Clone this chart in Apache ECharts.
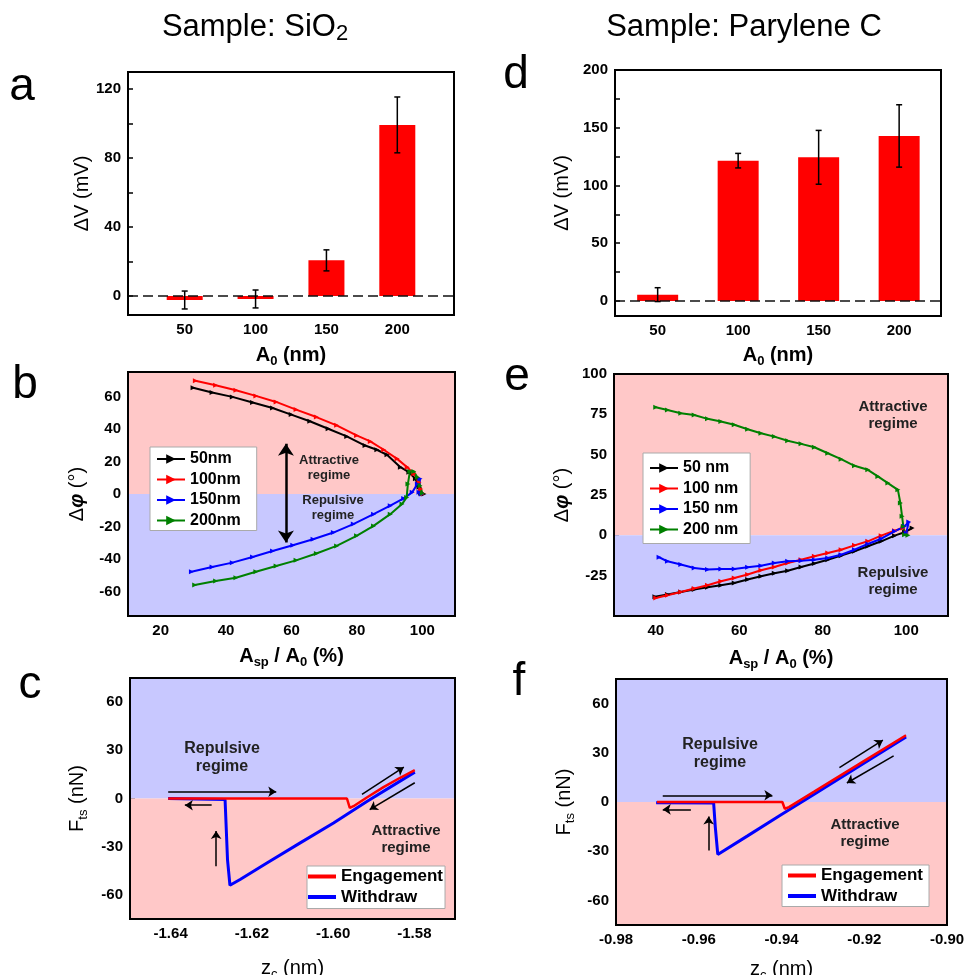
<!DOCTYPE html>
<html>
<head>
<meta charset="utf-8">
<title>Sample: SiO2 / Parylene C</title>
<script src="https://cdn.jsdelivr.net/npm/echarts@6/dist/echarts.min.js"></script>
<style>
  html, body { margin: 0; padding: 0; background: #fff; }
  #main { width: 967px; height: 975px; }
</style>
</head>
<body>
<div id="main"></div>
<script>
// ---------- data ----------
var amplitudeLabels = ['50', '100', '150', '200'];   // A0 (nm)
var amplitudePos = [1, 2, 3, 4];

// a: SiO2, ΔV (mV)
var sio2Dv = [-2.3, -1.7, 20.7, 99.3];
var sio2DvErr = [5.2, 5.2, 6.1, 16.2];
// d: Parylene C, ΔV (mV)
var paryDv = [5.5, 121.5, 124.4, 142.9];
var paryDvErr = [6.0, 6.3, 23.3, 27.0];

// b: SiO2, Δφ (°) vs Asp/A0 (%)
var sio2Phase50 = [[29.9,65.3],[35.7,62.4],[41.9,59.7],[48.1,56.2],[54.2,52.9],[59.9,48.8],[65.6,44.7],[71.2,40.1],[76.9,35.4],[82.5,29.8],[86.1,27.2],[89.2,24.1],[93.3,16.5],[95.9,13.4],[97.9,9.3],[99.0,4.1],[99.5,0.4],[100.5,0]];
var sio2Phase100 = [[30.6,69.6],[36.8,66.9],[43.0,63.8],[49.1,60.3],[55.3,56.6],[61.4,51.9],[67.6,47.3],[73.8,42.2],[79.9,36.0],[84.1,32.3],[88.2,27.2],[92.3,21.6],[95.4,16.5],[97.4,12.4],[99.0,7.2],[99.5,3.1],[100.0,0]];
var sio2Phase150 = [[29.4,-47.8],[35.7,-44.9],[41.9,-42.2],[48.1,-38.7],[54.2,-35.0],[60.4,-31.5],[66.6,-27.8],[72.8,-23.7],[78.9,-18.5],[85.1,-12.4],[90.2,-7.2],[94.3,-2.7],[96.9,1.0],[98.5,6.2],[99.3,9.3],[99.0,1.0],[99.7,0]];
var sio2Phase200 = [[30.4,-56.0],[36.8,-53.5],[43.0,-51.5],[49.1,-47.8],[55.3,-44.3],[61.4,-40.8],[67.6,-36.6],[73.8,-31.9],[79.9,-25.7],[85.1,-19.6],[90.2,-12.4],[93.8,-6.2],[95.2,-2.1],[95.6,6.2],[96.2,13.8],[97.4,13.8],[98.5,10.3],[99.3,5.1],[100.0,0.4]];

// e: Parylene C, Δφ (°) vs Asp/A0 (%)
var paryPhase50 = [[39.8,-38.1],[42.8,-36.7],[46.0,-35.1],[49.2,-33.6],[52.4,-32.2],[55.6,-30.9],[58.8,-29.5],[62.0,-27.4],[65.2,-25.4],[68.4,-23.5],[71.6,-21.9],[74.8,-19.6],[78.0,-17.5],[81.2,-15.1],[84.4,-12.6],[87.6,-9.9],[90.8,-6.8],[94.0,-3.7],[97.2,-0.2],[99.6,1.9],[101.4,4.5]];
var paryPhase100 = [[40.0,-38.8],[42.8,-37.1],[46.0,-35.1],[49.2,-33.0],[52.4,-30.9],[55.6,-28.5],[58.8,-26.4],[62.0,-24.3],[65.2,-21.6],[68.4,-19.6],[71.6,-17.1],[74.8,-15.1],[78.0,-13.0],[81.2,-10.9],[84.4,-8.9],[87.6,-6.2],[90.8,-3.7],[94.0,-0.2],[97.2,2.9],[99.2,4.5],[100.0,1.4]];
var paryPhase150 = [[40.8,-13.6],[42.8,-16.1],[46.0,-18.1],[49.2,-20.2],[52.4,-21.2],[55.6,-20.8],[58.8,-20.8],[62.0,-19.8],[65.2,-18.8],[68.4,-17.1],[71.6,-16.1],[74.8,-15.7],[78.0,-15.1],[81.2,-14.0],[84.4,-12.0],[87.6,-8.9],[90.8,-5.4],[94.0,-2.1],[97.2,2.5],[99.6,5.6],[100.6,8.2],[100.0,1.4]];
var paryPhase200 = [[40.0,79.4],[42.8,77.7],[46.0,75.7],[49.2,74.6],[52.4,72.2],[55.6,70.5],[58.8,68.5],[62.0,65.8],[65.2,63.3],[68.4,61.2],[71.6,58.6],[74.8,56.7],[78.0,54.6],[81.2,50.9],[84.4,47.2],[87.6,43.1],[90.8,40.6],[93.2,36.5],[95.6,32.4],[98.0,28.2],[98.6,20.0],[99.0,11.8],[99.3,5.6],[99.6,0.4],[100.4,0]];

// c: SiO2, Fts (nN) vs zc (nm)
var sio2Engage = [[-1.6406,0],[-1.6200,0],[-1.6000,0],[-1.5966,0],[-1.5959,-5.8],[-1.5950,-4.8],[-1.5917,0.6],[-1.5876,7.1],[-1.5835,12.9],[-1.5799,17.6]];
var sio2Withdraw = [[-1.5799,16.4],[-1.5917,-1.9],[-1.5999,-15.2],[-1.6081,-27.6],[-1.6163,-40.1],[-1.6229,-50.4],[-1.6254,-54.0],[-1.6260,-38.0],[-1.6266,-0.6],[-1.6268,0],[-1.6406,0]];
// f: Parylene C
var paryEngage = [[-0.9701,0],[-0.9564,0],[-0.9398,0],[-0.9392,-4.1],[-0.9382,-3.1],[-0.9321,6.3],[-0.9200,25.1],[-0.9099,40.7]];
var paryWithdraw = [[-0.9099,39.7],[-0.9200,23.8],[-0.9321,4.7],[-0.9402,-7.9],[-0.9483,-20.8],[-0.9554,-32.0],[-0.9560,-15.3],[-0.9564,-0.6],[-0.9568,0],[-0.9703,-0.4]];

// annotation arrows (data coordinates)
var sio2PhaseArrow = [[58.3, 30.9], [58.3, -29.8]];
var sio2ForceArrows = [
  [[-1.6406, 4.2], [-1.6140, 4.2]],
  [[-1.6299, -4.2], [-1.6365, -4.2]],
  [[-1.6288, -42.1], [-1.6288, -20.3]],
  [[-1.5929, 2.5], [-1.5826, 19.5]],
  [[-1.5799, 9.8], [-1.5910, -6.9]]
];
var paryForceArrows = [
  [[-0.9687, 4.1], [-0.9422, 4.1]],
  [[-0.9619, -4.5], [-0.9687, -4.5]],
  [[-0.9576, -29.5], [-0.9576, -8.8]],
  [[-0.9260, 21.0], [-0.9155, 37.7]],
  [[-0.9129, 28.1], [-0.9242, 11.6]]
];

// ---------- chart ----------
var FONT = 'Liberation Sans, Arial, Helvetica, sans-serif';
var PINK = '#ffc8c8';
var LAV = '#c8c8ff';

var grids = [
  { left: 128, top: 72, width: 326, height: 243 },  // a
  { left: 128, top: 372, width: 327, height: 244 }, // b
  { left: 130, top: 678, width: 325, height: 241 }, // c
  { left: 615, top: 70, width: 326, height: 246 },  // d
  { left: 614, top: 374, width: 334, height: 242 }, // e
  { left: 616, top: 679, width: 331, height: 246 }  // f
];
grids.forEach(function (g) { g.outerBoundsMode = 'none'; });

function range(a, b, step) {
  var out = [];
  for (var v = a; v <= b + step / 1000; v += step) out.push(+v.toFixed(4));
  return out;
}

var nameRich = {
  n: { fontFamily: FONT, fontSize: 20, color: '#000', lineHeight: 26 },
  b: { fontFamily: FONT, fontSize: 20, fontWeight: 'bold', color: '#000', lineHeight: 26 },
  p: { fontFamily: FONT, fontSize: 20, fontWeight: 'bold', fontStyle: 'italic', color: '#000', lineHeight: 26 },
  s: { fontFamily: FONT, fontSize: 13, color: '#000', verticalAlign: 'bottom', lineHeight: 13 },
  sb: { fontFamily: FONT, fontSize: 13, fontWeight: 'bold', color: '#000', verticalAlign: 'bottom', lineHeight: 13 }
};

function axis(i, min, max, labels, ticks, name, gap, fmt) {
  return {
    type: 'value', gridIndex: i, min: min, max: max,
    name: name, nameLocation: 'middle', nameGap: gap,
    nameTextStyle: { rich: nameRich },
    axisLine: { show: true, onZero: false, lineStyle: { color: '#000', width: 2 } },
    axisTick: { show: true, inside: true, length: 5, customValues: ticks, lineStyle: { color: '#000', width: 1.5 } },
    axisLabel: {
      show: true, customValues: labels, margin: 7, color: '#000',
      fontFamily: FONT, fontSize: 15, fontWeight: 'bold',
      formatter: fmt || function (v) { return String(v); }
    },
    splitLine: { show: false }
  };
}

function barLabel(v) {
  var k = amplitudePos.indexOf(Math.round(v));
  return k >= 0 ? amplitudeLabels[k] : '';
}
function fix2(v) { return v.toFixed(2); }

var xAxes = [
  axis(0, 0.2, 4.8, amplitudePos, [], '{b|A}{sb|0}{b| (nm)}', 27, barLabel),
  axis(1, 10, 110, range(20, 100, 20), range(20, 100, 10), '{b|A}{sb|sp}{b| / A}{sb|0}{b| (%)}', 27),
  axis(2, -1.65, -1.57, [-1.64, -1.62, -1.60, -1.58], range(-1.64, -1.58, 0.01), '{n|z}{s|c}{n| (nm)}', 36, fix2),
  axis(3, 0.47, 4.52, amplitudePos, [], '{b|A}{sb|0}{b| (nm)}', 26, barLabel),
  axis(4, 30, 110, range(40, 100, 20), range(40, 100, 10), '{b|A}{sb|sp}{b| / A}{sb|0}{b| (%)}', 29),
  axis(5, -0.98, -0.90, range(-0.98, -0.90, 0.02), range(-0.98, -0.90, 0.01), '{n|z}{s|c}{n| (nm)}', 31, fix2)
];
var yAxes = [
  axis(0, -11, 130, range(0, 120, 40), range(0, 120, 20), '{n|ΔV (mV)}', 33),
  axis(1, -75, 75, range(-60, 60, 20), range(-70, 70, 10), '{n|Δ}{p|φ}{n| (°)}', 38),
  axis(2, -75, 75, range(-60, 60, 30), range(-60, 60, 15), '{n|F}{s|ts}{n| (nN)}', 40),
  axis(3, -13, 200, range(0, 200, 50), range(0, 200, 25), '{n|ΔV (mV)}', 40),
  axis(4, -50, 100, range(-25, 100, 25), range(-37.5, 100, 12.5), '{n|Δ}{p|φ}{n| (°)}', 39),
  axis(5, -75, 75, range(-60, 60, 30), range(-60, 60, 15), '{n|F}{s|ts}{n| (nN)}', 39)
];

function bgArea(i, xmin, xmax, ymin, ymax, topColor, bottomColor) {
  return {
    type: 'line', xAxisIndex: i, yAxisIndex: i, data: [], silent: true, z: 1,
    markArea: {
      silent: true,
      data: [
        [{ coord: [xmin, 0], itemStyle: { color: topColor } }, { coord: [xmax, ymax] }],
        [{ coord: [xmin, ymin], itemStyle: { color: bottomColor } }, { coord: [xmax, 0] }]
      ]
    }
  };
}

function errRender(params, api) {
  var x = api.value(0);
  var lo = api.coord([x, api.value(1)]);
  var hi = api.coord([x, api.value(2)]);
  var w = 3;
  var st = { stroke: '#000', lineWidth: 1.5 };
  return {
    type: 'group',
    children: [
      { type: 'line', shape: { x1: lo[0], y1: lo[1], x2: hi[0], y2: hi[1] }, style: st },
      { type: 'line', shape: { x1: lo[0] - w, y1: lo[1], x2: lo[0] + w, y2: lo[1] }, style: st },
      { type: 'line', shape: { x1: hi[0] - w, y1: hi[1], x2: hi[0] + w, y2: hi[1] }, style: st }
    ]
  };
}

function barPanel(i, means, errs, bw) {
  return [
    {
      type: 'bar', xAxisIndex: i, yAxisIndex: i, barWidth: bw,
      itemStyle: { color: '#ff0000' },
      data: amplitudePos.map(function (p, k) { return [p, means[k]]; }),
      markLine: {
        silent: true, symbol: 'none', label: { show: false },
        lineStyle: { color: '#111', type: [10, 5], width: 1.5 },
        data: [{ yAxis: 0 }]
      }
    },
    {
      type: 'custom', xAxisIndex: i, yAxisIndex: i, renderItem: errRender,
      encode: { x: 0, y: [1, 2] }, z: 5,
      data: amplitudePos.map(function (p, k) { return [p, means[k] - errs[k], means[k] + errs[k]]; })
    }
  ];
}

function phaseLine(i, name, color, data) {
  return {
    type: 'line', name: name, xAxisIndex: i, yAxisIndex: i, data: data,
    color: color, symbol: 'triangle', symbolRotate: -90, symbolSize: 5,
    lineStyle: { width: 2, color: color }, itemStyle: { color: color }
  };
}

function forceLine(i, name, color, width, data) {
  return {
    type: 'line', name: name, xAxisIndex: i, yAxisIndex: i, data: data,
    color: color, showSymbol: false, symbol: 'none',
    lineStyle: { width: width, color: color }, z: 3
  };
}

function arrows(i, list, both, size) {
  return {
    type: 'line', xAxisIndex: i, yAxisIndex: i, data: [], silent: true, z: 6,
    markLine: {
      silent: true, animation: false,
      symbol: both ? ['arrow', 'arrow'] : ['none', 'arrow'],
      symbolSize: size,
      label: { show: false },
      lineStyle: { color: '#000', type: 'solid', width: both ? 2.5 : 1.5 },
      data: list.map(function (seg) { return [{ coord: seg[0] }, { coord: seg[1] }]; })
    }
  };
}

var series = []
  .concat(barPanel(0, sio2Dv, sio2DvErr, 36))
  .concat(barPanel(3, paryDv, paryDvErr, 41))
  .concat([
    bgArea(1, 10, 110, -75, 75, PINK, LAV),
    phaseLine(1, '50nm', '#000000', sio2Phase50),
    phaseLine(1, '100nm', '#ff0000', sio2Phase100),
    phaseLine(1, '150nm', '#0000ff', sio2Phase150),
    phaseLine(1, '200nm', '#008000', sio2Phase200),
    arrows(1, [sio2PhaseArrow], true, 12),

    bgArea(4, 30, 110, -50, 100, PINK, LAV),
    phaseLine(4, '50 nm', '#000000', paryPhase50),
    phaseLine(4, '100 nm', '#ff0000', paryPhase100),
    phaseLine(4, '150 nm', '#0000ff', paryPhase150),
    phaseLine(4, '200 nm', '#008000', paryPhase200),

    bgArea(2, -1.65, -1.57, -75, 75, LAV, PINK),
    forceLine(2, 'Withdraw', '#0000ff', 3, sio2Withdraw),
    forceLine(2, 'Engagement', '#ff0000', 2.5, sio2Engage),
    arrows(2, sio2ForceArrows, false, 8),

    bgArea(5, -0.98, -0.90, -75, 75, LAV, PINK),
    forceLine(5, 'Withdraw', '#0000ff', 3, paryWithdraw),
    forceLine(5, 'Engagement', '#ff0000', 2.5, paryEngage),
    arrows(5, paryForceArrows, false, 8)
  ]);

function legendBox(left, top, names, padding, plain) {
  var lg = {
    left: left, top: top, orient: 'vertical', selectedMode: false,
    data: names, itemWidth: 28, itemHeight: 12, itemGap: 2.5,
    padding: padding,
    backgroundColor: '#fff', borderColor: '#aaa', borderWidth: 1,
    textStyle: { fontFamily: FONT, fontSize: 16, fontWeight: 'bold', color: '#000', lineHeight: 18 }
  };
  if (plain) {
    lg.icon = 'rect';
    lg.itemHeight = 4;
    lg.itemGap = 1.5;
    lg.textStyle.fontSize = 17;
    lg.textStyle.lineHeight = 19;
  }
  return lg;
}

function label(x, y, text, size) {
  return {
    type: 'text', z: 50, silent: true,
    style: {
      x: x, y: y, text: text, align: 'center', verticalAlign: 'middle',
      font: 'bold ' + size + 'px ' + FONT, lineHeight: size + 2, fill: '#222'
    }
  };
}
function letter(x, y, t) {
  return {
    type: 'text', z: 50, silent: true,
    style: { x: x, y: y, text: t, align: 'center', verticalAlign: 'bottom', font: '46px ' + FONT, fill: '#000' }
  };
}

var graphics = [
  {
    type: 'text', z: 50, silent: true,
    style: {
      x: 255, y: 27, align: 'center', verticalAlign: 'middle',
      text: '{t|Sample: SiO}{u|2}',
      rich: {
        t: { fontFamily: FONT, fontSize: 31, fill: '#000', lineHeight: 36 },
        u: { fontFamily: FONT, fontSize: 22, fill: '#000', verticalAlign: 'bottom', lineHeight: 31 }
      }
    }
  },
  {
    type: 'text', z: 50, silent: true,
    style: { x: 744, y: 27, align: 'center', verticalAlign: 'middle', text: 'Sample: Parylene C', font: '31px ' + FONT, fill: '#000' }
  },
  letter(22, 110, 'a'), letter(25, 408, 'b'), letter(30, 708, 'c'),
  letter(516, 98, 'd'), letter(517, 400, 'e'), letter(519, 705, 'f'),
  label(329, 468, 'Attractive\nregime', 13),
  label(333, 508, 'Repulsive\nregime', 13),
  label(893, 415, 'Attractive\nregime', 15),
  label(893, 581, 'Repulsive\nregime', 15),
  label(222, 758, 'Repulsive\nregime', 16),
  label(406, 839, 'Attractive\nregime', 15),
  label(720, 754, 'Repulsive\nregime', 16),
  label(865, 833, 'Attractive\nregime', 15)
];

// plot frames drawn on top of the shaded backgrounds
grids.forEach(function (g) {
  graphics.push({
    type: 'rect', z: 40, silent: true,
    shape: { x: g.left, y: g.top, width: g.width, height: g.height },
    style: { fill: 'none', stroke: '#000', lineWidth: 2 }
  });
});

var chart = echarts.init(document.getElementById('main'));
chart.setOption({
  animation: false,
  backgroundColor: '#fff',
  textStyle: { fontFamily: FONT },
  grid: grids,
  xAxis: xAxes,
  yAxis: yAxes,
  legend: [
    legendBox(150, 447, ['50nm', '100nm', '150nm', '200nm'], [3, 16, 1, 6]),
    legendBox(643, 453, ['50 nm', '100 nm', '150 nm', '200 nm'], [6, 12, 5, 6]),
    legendBox(307, 866, ['Engagement', 'Withdraw'], [1, 2, 2, 1], true),
    legendBox(782, 865, ['Engagement', 'Withdraw'], [1, 6, 1, 6], true)
  ],
  graphic: graphics,
  series: series
});
</script>
</body>
</html>
